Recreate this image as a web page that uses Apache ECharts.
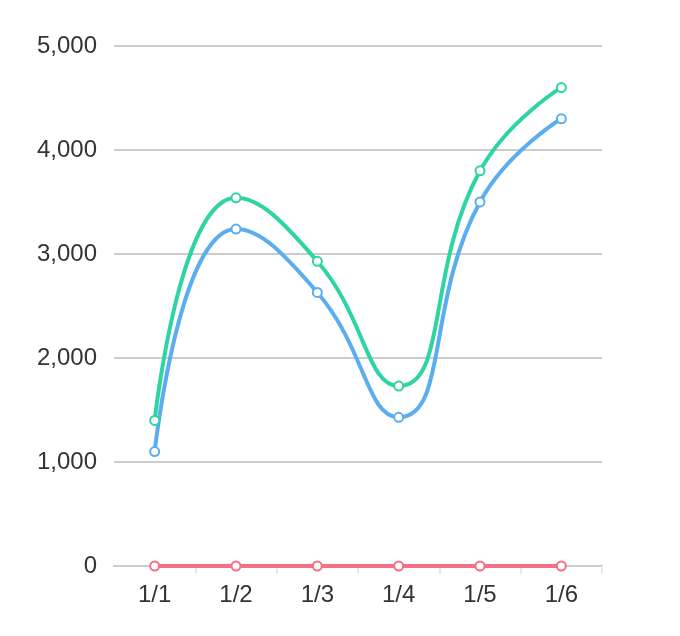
<!DOCTYPE html>
<html>
<head>
<meta charset="utf-8">
<title>chart</title>
<script src="https://cdn.jsdelivr.net/npm/echarts@6/dist/echarts.min.js"></script>
<style>html,body{margin:0;padding:0;background:#fff;}</style>
</head>
<body>
<div id="main" style="width:680px;height:636px;"></div>
<script type="text/javascript">
var categories = ['1/1', '1/2', '1/3', '1/4', '1/5', '1/6'];
var greenValues = [1400, 3540, 2930, 1730, 3800, 4600];
var blueValues = [1100, 3240, 2630, 1430, 3500, 4300];
var redValues = [0, 0, 0, 0, 0, 0];
var yTicks = [0, 1000, 2000, 3000, 4000, 5000];

function lineSeries(name, data, color) {
  return {
    name: name,
    type: 'line',
    data: data,
    smooth: 0.5,
    symbol: 'circle',
    symbolSize: 9,
    showSymbol: true,
    lineStyle: {color: color, width: 4},
    itemStyle: {color: '#fff', borderColor: color, borderWidth: 2}
  };
}

var myChart = echarts.init(document.getElementById('main'));
var option = {
  animation: false,
  textStyle: {fontFamily: 'Liberation Sans'},
  grid: {left: 114, right: 78, top: 46, bottom: 70},
  xAxis: {
    type: 'category',
    data: categories,
    boundaryGap: true,
    axisLine: {lineStyle: {color: '#cccccc', width: 2}},
    axisTick: {
      show: true, length: 8,
      interval: function (index) { return index > 0 && index < categories.length; },
      lineStyle: {color: '#e8e8e8', width: 2}
    },
    axisLabel: {color: '#333', fontSize: 24, margin: 17}
  },
  yAxis: {
    type: 'value',
    min: yTicks[0],
    max: yTicks[yTicks.length - 1],
    interval: 1000,
    axisLine: {show: false},
    axisTick: {show: false},
    axisLabel: {color: '#333', fontSize: 24, margin: 17,
      formatter: function (v) { return v.toLocaleString('en-US'); }},
    splitLine: {lineStyle: {color: '#cccccc', width: 2}}
  },
  series: [
    lineSeries('red', redValues, '#f56f86'),
    lineSeries('blue', blueValues, '#5aaef0'),
    lineSeries('green', greenValues, '#2fd4a4')
  ]
};
myChart.setOption(option);
</script>
</body>
</html>
